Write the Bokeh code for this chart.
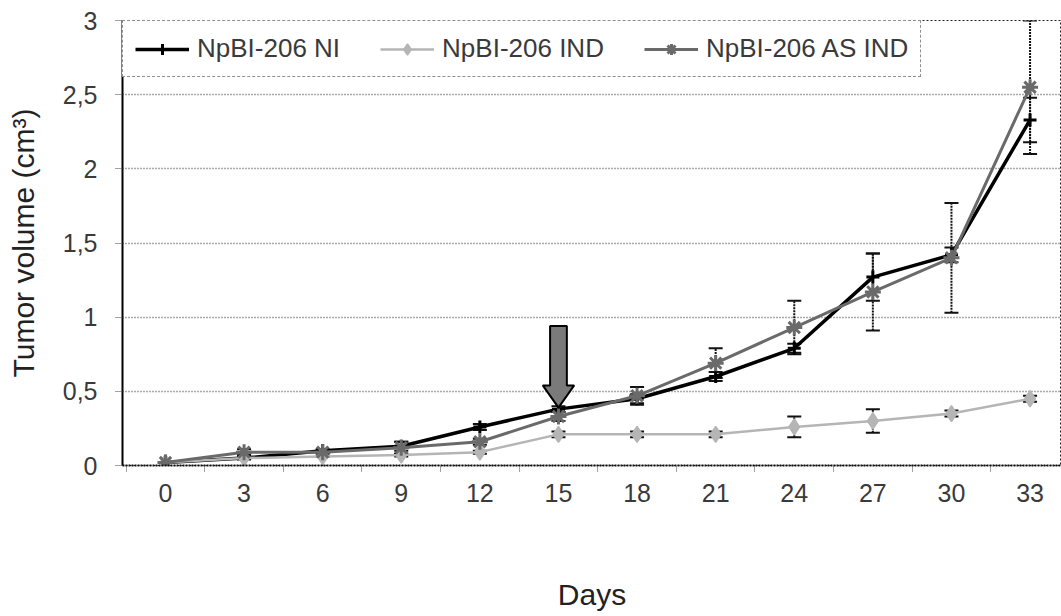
from bokeh.plotting import figure
from bokeh.models import (ColumnDataSource, FixedTicker, Legend, LegendItem, Whisker,
                          TeeHead, CustomJSTickFormatter, Range1d)
from bokeh.embed import file_html
from bokeh.resources import INLINE

# ---- data ----
days = [0, 3, 6, 9, 12, 15, 18, 21, 24, 27, 30, 33]
series_names = ["NpBI-206 NI", "NpBI-206 IND", "NpBI-206 AS IND"]
ni = [0.02, 0.05, 0.10, 0.13, 0.26, 0.38, 0.45, 0.60, 0.79, 1.27, 1.42, 2.33]
ni_err = [0.0, 0.01, 0.01, 0.03, 0.02, 0.02, 0.03, 0.03, 0.03, 0.16, 0.05, 0.15]
ind = [0.02, 0.05, 0.06, 0.07, 0.09, 0.21, 0.21, 0.21, 0.26, 0.30, 0.35, 0.45]
ind_err = [0.0, 0.0, 0.0, 0.01, 0.01, 0.02, 0.02, 0.02, 0.07, 0.08, 0.02, 0.02]
as_ind = [0.02, 0.09, 0.09, 0.12, 0.16, 0.33, 0.47, 0.69, 0.93, 1.17, 1.40, 2.55]
as_err = [0.0, 0.02, 0.01, 0.04, 0.02, 0.03, 0.06, 0.10, 0.18, 0.26, 0.37, 0.45]
y_ticks = [0, 0.5, 1, 1.5, 2, 2.5, 3]
arrow_day = 15  # treatment start marked by the arrow

FONT = "Liberation Sans"
TXT = "#3a3a3a"

step = days[1] - days[0]
p = figure(width=1061, height=616, output_backend="svg", toolbar_location=None,
           x_range=Range1d(days[0] - 1.64, days[-1] + 1.2), y_range=Range1d(y_ticks[0], y_ticks[-1]),
           min_border_left=122, min_border_right=0, min_border_top=20, min_border_bottom=151)
p.background_fill_color = "white"
p.border_fill_color = "white"
p.outline_line_color = "#222222"
p.outline_line_dash = "2 2"
p.outline_line_width = 1

# axes
xa = p.xaxis[0]
xa.ticker = FixedTicker(ticks=days, minor_ticks=[d - step / 2 for d in days] + [days[-1] + step / 2])
xa.major_tick_out = 0
xa.major_tick_in = 0
xa.minor_tick_out = 6
xa.minor_tick_in = 0
xa.minor_tick_line_color = "#444444"
xa.minor_tick_line_dash = "1 1"
xa.axis_line_color = "#111111"
xa.axis_line_width = 2
xa.axis_line_dash = "2 1"
xa.major_label_text_font = FONT
xa.major_label_text_font_size = "25px"
xa.major_label_text_color = TXT
xa.major_label_standoff = 12
xa.axis_label = "Days"
xa.axis_label_text_font = FONT
xa.axis_label_text_font_size = "30px"
xa.axis_label_text_font_style = "normal"
xa.axis_label_text_color = "#222222"
xa.axis_label_standoff = 73

ya = p.yaxis[0]
ya.ticker = FixedTicker(ticks=y_ticks)
ya.formatter = CustomJSTickFormatter(code="return tick.toString().replace('.', ',')")
ya.major_tick_out = 7
ya.major_tick_in = 0
ya.major_tick_line_dash = "1 1"
ya.major_tick_line_color = "#444444"
ya.minor_tick_line_color = None
ya.axis_line_color = "black"
ya.axis_line_width = 2
ya.major_label_text_font = FONT
ya.major_label_text_font_size = "25px"
ya.major_label_text_color = TXT
ya.major_label_standoff = 18
ya.axis_label = "Tumor volume (cm³)"
ya.axis_label_text_font = FONT
ya.axis_label_text_font_size = "30px"
ya.axis_label_text_font_style = "normal"
ya.axis_label_text_color = "#222222"
ya.axis_label_standoff = 20

p.xgrid.grid_line_color = None
p.ygrid.grid_line_color = "#555555"
p.ygrid.grid_line_dash = "1 2"
p.ygrid.grid_line_width = 1.5

# series
styles = [
    dict(color="black", width=3.5, marker="cross", msize=13, mwidth=3, fill="black"),
    dict(color="#b5b5b5", width=2.5, marker="diamond", msize=16, mwidth=1.5, fill="#b5b5b5"),
    dict(color="#6a6a6a", width=3, marker="asterisk", msize=16, mwidth=3, fill="#6a6a6a"),
]
values = [ni, ind, as_ind]
errors = [ni_err, ind_err, as_err]
items = []
for name, vals, errs, st in zip(series_names, values, errors, styles):
    src = ColumnDataSource(dict(x=days, y=vals,
                                upper=[v + e for v, e in zip(vals, errs)],
                                lower=[v - e for v, e in zip(vals, errs)]))
    w = Whisker(source=src, base="x", upper="upper", lower="lower",
                line_color="#111111", line_width=2, line_dash="2 1",
                upper_head=TeeHead(size=14, line_color="#111111", line_width=2),
                lower_head=TeeHead(size=14, line_color="#111111", line_width=2))
    p.add_layout(w)
    lr = p.line("x", "y", source=src, line_color=st["color"], line_width=st["width"])
    mr = p.scatter("x", "y", source=src, marker=st["marker"], size=st["msize"],
                   line_color=st["color"], fill_color=st["fill"], line_width=st["mwidth"])
    items.append(LegendItem(label=name, renderers=[lr, mr]))

# arrow marking day 15
i_arrow = days.index(arrow_day)
tip = ni[i_arrow] + 0.01
hb = tip + 0.15
top = tip + 0.55
sw, hw = 0.32, 0.6
ax = [arrow_day - sw, arrow_day + sw, arrow_day + sw, arrow_day + hw, arrow_day,
      arrow_day - hw, arrow_day - sw]
ay = [top, top, hb, hb, tip, hb, hb]
p.patch(ax, ay, fill_color="#7a7a7a", line_color="black", line_width=2)

legend = Legend(items=items, location="top_left", orientation="horizontal",
                margin=0, padding=12, spacing=40, label_standoff=8,
                glyph_width=54, glyph_height=28,
                label_text_font=FONT, label_text_font_size="26px",
                label_text_color=TXT,
                border_line_color="#222222", border_line_dash="2 2", border_line_width=1,
                background_fill_color="white", background_fill_alpha=1)
p.add_layout(legend)

open("out.html", "w").write(file_html(p, INLINE))
